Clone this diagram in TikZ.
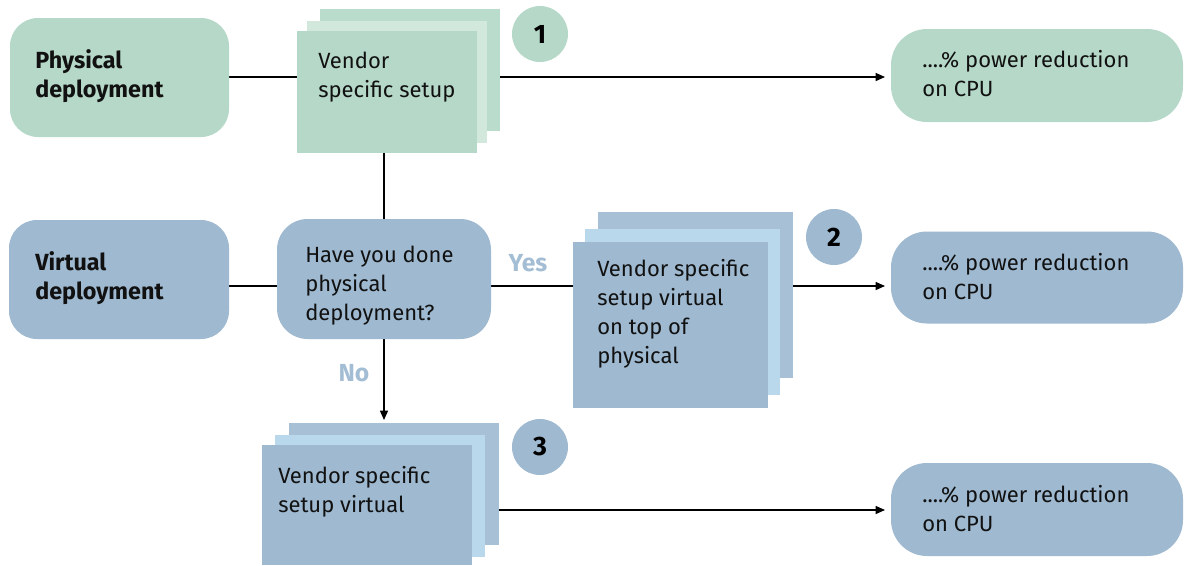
\documentclass[tikz,border=0pt]{standalone}
\usepackage{fontspec}
\setmainfont{Fira Sans}
\usetikzlibrary{arrows.meta}
\definecolor{grn}{HTML}{B5D8C8}
\definecolor{grnmid}{HTML}{D2E8DC}
\definecolor{grnback}{HTML}{BADCCC}
\definecolor{blu}{HTML}{9EB9D0}
\definecolor{blumid}{HTML}{B9D8EC}
\definecolor{bluback}{HTML}{A8C0D5}
\definecolor{lbl}{HTML}{A3BDD4}
\definecolor{ink}{HTML}{111111}
\newcommand\tlines[1]{\begin{tabular}[t]{@{}l@{}}#1\end{tabular}}
\pgfdeclarelayer{bg}
\pgfsetlayers{bg,main}
\begin{document}
\begin{tikzpicture}[x=0.75pt,y=-0.75pt,
  font=\fontsize{16.5}{21.75}\selectfont,
  sz/.style 2 args={minimum width=#1*0.75pt, minimum height=#2*0.75pt, inner sep=0pt, outer sep=0pt},
  rbox/.style={rounded corners=21pt, draw=none},
  sheet/.style={draw=none},
  txt/.style={anchor=base west, inner sep=0pt, text=ink},
  btxt/.style={txt, font=\fontsize{17.5}{21.75}\selectfont\bfseries},
  num/.style={circle, fill=#1, minimum size=56*0.75pt, inner sep=0pt, font=\fontsize{20}{22}\selectfont\bfseries, text=black},
  lab/.style={text=lbl, font=\fontsize{18.5}{20}\selectfont\bfseries, inner sep=0pt},
  conn/.style={line width=1pt, draw=black},
  arr/.style={conn, -{Triangle[length=7pt,width=6pt]}, shorten >=4.5pt}
]
\useasboundingbox (0,0) rectangle (1189,565);

% left boxes
\node[rbox, fill=grn, sz={219}{119}] (phys) at (119.5,77.5) {};
\node[btxt] (physT) at (35,68) {\tlines{Physical\\deployment}};
\node[rbox, fill=blu, sz={220}{119}] (virt) at (119,279.5) {};
\node[btxt] (virtT) at (35,270) {\tlines{Virtual\\deployment}};

% decision
\node[rbox, rounded corners=23pt, fill=blu, sz={214}{120}] (dec) at (384,279) {};
\node[txt] (decT) at (305,262) {\tlines{Have you done\\physical\\deployment?}};

% result boxes
\node[rbox, rounded corners=27pt, fill=grn, sz={292}{93}] (res1) at (1037,75.5) {};
\node[txt] (res1T) at (922,67) {\tlines{....\% power reduction\\on CPU}};
\node[rbox, rounded corners=27pt, fill=blu, sz={292}{92}] (res2) at (1037,277.5) {};
\node[txt] (res2T) at (922,270) {\tlines{....\% power reduction\\on CPU}};
\node[rbox, rounded corners=27pt, fill=blu, sz={292}{93}] (res3) at (1037,509.5) {};
\node[txt] (res3T) at (922,502) {\tlines{....\% power reduction\\on CPU}};

% stack 1
\node[sheet, fill=grnback, sz={180}{122}] (s1back) at (410,70) {};
\node[sheet, fill=grnmid, sz={180}{122}] (s1mid) at (397,82) {};
\node[sheet, fill=grn, sz={180}{122}] (s1front) at (387,92) {};
\node[txt] (s1T) at (318,68) {\tlines{Vendor\\specific setup}};
\node[num=grn] (n1) at (540,34) {1};

% stack 2
\node[sheet, fill=bluback, sz={195}{166}] (s2back) at (695.5,295) {};
\node[sheet, fill=blumid, sz={195}{166}] (s2mid) at (682.5,312) {};
\node[sheet, fill=blu, sz={195}{166}] (s2front) at (670.5,325) {};
\node[txt] (s2T) at (597,276) {\tlines{Vendor specific\\setup virtual\\on top of\\physical}};
\node[num=blu] (n2) at (834,237) {2};

% stack 3
\node[sheet, fill=bluback, sz={210}{122}] (s3back) at (394,484) {};
\node[sheet, fill=blumid, sz={210}{122}] (s3mid) at (380,496) {};
\node[sheet, fill=blu, sz={210}{120}] (s3front) at (367,505) {};
\node[txt] (s3T) at (278,483) {\tlines{Vendor specific\\setup virtual}};
\node[num=blu] (n3) at (540,447) {3};

% labels
\node[lab] (yes) at (528,263) {Yes};
\node[lab] (no) at (354,373) {No};

\coordinate (r1) at (0,77);
\coordinate (r2) at (0,286);
\coordinate (r3) at (0,510);

\begin{pgfonlayer}{bg}
\draw[arr] (phys.east |- r1) -- (res1.west |- r1);
\draw[conn] (dec.north |- s1front.south) -- (dec.north);
\draw[conn] (virt.east |- r2) -- (dec.west |- r2);
\draw[arr] (dec.east |- r2) -- (res2.west |- r2);
\draw[arr, shorten >=2.25pt] (dec.south) -- (dec.south |- s3back.north);
\draw[arr] (s3back.east |- r3) -- (res3.west |- r3);
\end{pgfonlayer}
\end{tikzpicture}
\end{document}
